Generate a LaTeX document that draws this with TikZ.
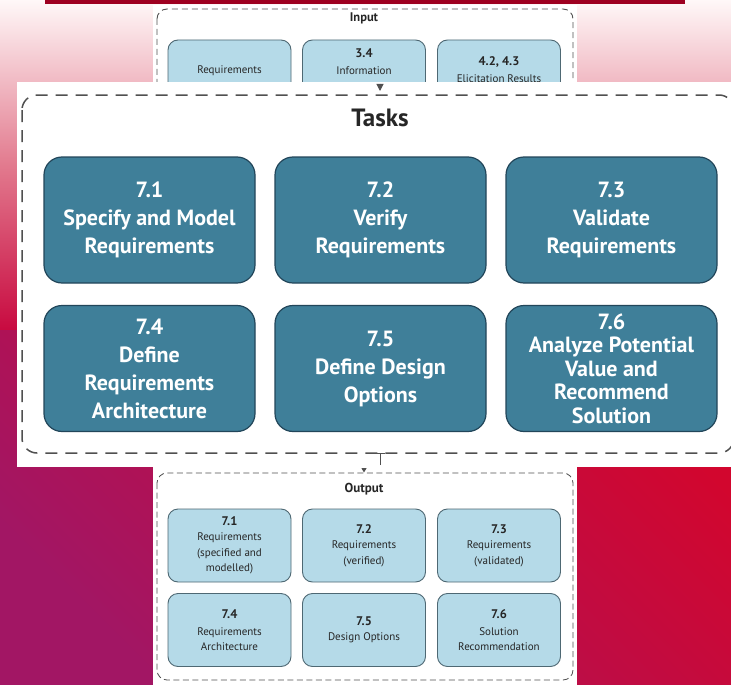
\documentclass[tikz,border=0pt]{standalone}
\usepackage{fontspec}
\setmainfont{PT Sans}
\usetikzlibrary{arrows.meta,shadings}
\definecolor{bgtop}{HTML}{FFF8F8}
\definecolor{bgmid}{HTML}{E27A8E}
\definecolor{bgbase}{HTML}{C80A40}
\definecolor{bgred}{HTML}{D2062E}
\definecolor{bgpurple}{HTML}{A21664}
\definecolor{barred}{HTML}{9E0020}
\definecolor{teal}{HTML}{3F7F99}
\definecolor{tealedge}{HTML}{22465A}
\definecolor{lightblue}{HTML}{B5DAE8}
\definecolor{lightedge}{HTML}{4E6873}
\definecolor{dashgray}{HTML}{505050}
\definecolor{txtdark}{HTML}{262626}
\tikzset{
  tbox/.style={draw=tealedge, line width=1.2pt, fill=teal, rounded corners=18pt,
    minimum width=211pt, minimum height=126pt, align=center, text=white,
    font=\fontsize{22}{28}\selectfont\bfseries, inner sep=2pt},
  lbox/.style={draw=lightedge, line width=0.9pt, fill=lightblue, rounded corners=10pt,
    minimum width=123pt, minimum height=73pt, align=center, text=txtdark,
    font=\fontsize{11}{15.5}\selectfont, inner sep=1pt},
  ltext/.style={text=txtdark, font=\fontsize{11}{15.5}\selectfont, inner sep=0pt},
  lnum/.style={text=txtdark, font=\fontsize{12.5}{15.5}\selectfont\bfseries, inner sep=0pt},
  ptitle/.style={text=black!85, font=\fontsize{13}{15}\selectfont\bfseries, inner sep=0pt},
  smalldash/.style={draw=dashgray, line width=0.9pt, dash pattern=on 6pt off 4pt},
  bigdash/.style={draw=dashgray, line width=1.5pt, dash pattern=on 12pt off 8pt},
  conn/.style={draw=dashgray, fill=dashgray, line width=1pt},
}
\newcommand{\nb}[1]{{\fontsize{12.5}{15.5}\selectfont\bfseries #1}}
\begin{document}
\begin{tikzpicture}[x=1pt,y=-1pt]
\useasboundingbox (0,0) rectangle (731,685);
% background
\fill[bgbase] (0,0) rectangle (731,685);
\shade[top color=bgtop, bottom color=bgbase, middle color=bgmid] (0,0) rectangle (731,330);
\shade[shading=axis, top color=bgred, bottom color=bgpurple, shading angle=-45] (0,330) rectangle (731,685);
\fill[barred] (45,0) rectangle (685,4.5);

% input panel
\fill[white] (153,5) rectangle (577,82);
\draw[smalldash, rounded corners=10pt] (157,9) rectangle (573,160);
\node[ptitle, font=\fontsize{12.5}{15}\selectfont\bfseries] (intitle) at (364,18) {Input};
\node[lbox, minimum height=72pt] (in1) at (229.5,76) {};
\node[lbox, minimum height=72pt] (in2) at (364,76) {};
\node[lbox, minimum height=72pt] (in3) at (499,76) {};
\node[ltext] (in1t) at (229.5,71) {Requirements};
\node[lnum] (in2n) at (364,53) {3.4};
\node[ltext] (in2t) at (364,70.5) {Information};
\node[lnum] (in3n) at (499,62) {4.2, 4.3};
\node[ltext] (in3t) at (499,79) {Elicitation Results};

% tasks panel
\fill[white] (17,82) rectangle (731,467);
\draw[bigdash, rounded corners=15pt] (22,95) rectangle (734,453);
\node[ptitle, font=\fontsize{25}{28}\selectfont\bfseries] (tktitle) at (380,118) {Tasks};
\node[tbox] (t1) at (149.5,220) {7.1\\Specify and Model\\Requirements};
\node[tbox] (t2) at (380.5,220) {7.2\\Verify\\Requirements};
\node[tbox] (t3) at (611.5,220) {7.3\\Validate\\Requirements};
\node[tbox] (t4) at (149.5,368.5) {7.4\\Define\\Requirements\\Architecture};
\node[tbox] (t5) at (380.5,368.5) {7.5\\Define Design\\Options};
\node[tbox, font=\fontsize{22}{23.5}\selectfont\bfseries] (t6) at (611.5,368.5) {7.6\\Analyze Potential\\Value and\\Recommend\\Solution};

% output panel
\fill[white] (153,460) rectangle (577,685);
\draw[smalldash, line width=0.8pt, dash pattern=on 6pt off 3.5pt, rounded corners=10pt] (157,473) rectangle (573,680);
\node[ptitle] (outtitle) at (364,489) {Output};
\node[lbox] (o1) at (229.5,545.5) {\nb{7.1}\\Requirements\\(specified and\\modelled)};
\node[lbox] (o2) at (364,545.5) {\nb{7.2}\\Requirements\\(verified)};
\node[lbox] (o3) at (499,545.5) {\nb{7.3}\\Requirements\\(validated)};
\node[lbox] (o4) at (229.5,630) {\nb{7.4}\\[1.5pt]Requirements\\Architecture};
\node[lbox] (o5) at (364,630) {\nb{7.5}\\Design Options};
\node[lbox] (o6) at (499,630) {\nb{7.6}\\[1.5pt]Solution\\Recommendation};

% connectors
\coordinate (inS) at (380,84);
\coordinate (tkN) at (380,91);
\draw[conn, -{Triangle[width=7pt,length=7pt]}] (inS) -- (tkN);
\coordinate (tkS) at (380,453);
\coordinate (tkS2) at (380,465);
\draw[conn, {Bar[width=10pt]}-] (tkS) -- (tkS2);
\coordinate (outA) at (364,468);
\coordinate (outN) at (364,472.5);
\draw[conn, -{Triangle[width=5pt,length=4.5pt]}] (outA) -- (outN);
\end{tikzpicture}
\end{document}
